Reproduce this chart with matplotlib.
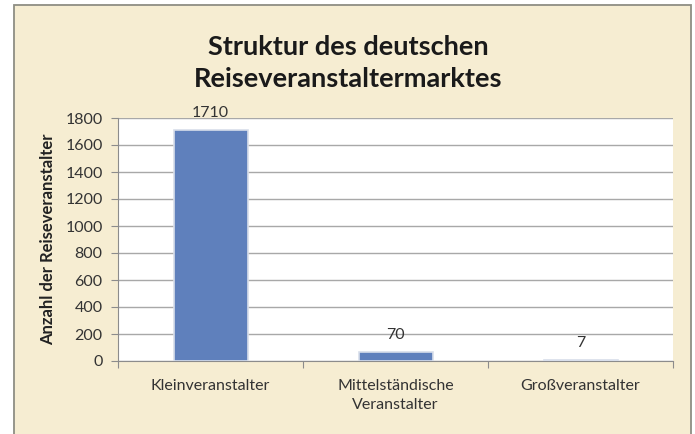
import matplotlib
matplotlib.use("Agg")
import matplotlib.pyplot as plt
from matplotlib.patches import Rectangle

categories = ["Kleinveranstalter", "Mittelständische\nVeranstalter", "Großveranstalter"]
values = [1710, 70, 7]
yticks = [0, 200, 400, 600, 800, 1000, 1200, 1400, 1600, 1800]
title = "Struktur des deutschen\nReiseveranstaltermarktes"
ylabel = "Anzahl der Reiseveranstalter"

plt.rcParams['font.family'] = ['Lato', 'DejaVu Sans']

W, H = 695, 434
fig = plt.figure(figsize=(W / 100, H / 100), dpi=100)
fig.patch.set_facecolor("white")
# background panel with frame (bottom edge runs off the image)
fig.patches.append(Rectangle((14 / W, 1 - 445 / H), (691 - 14) / W, (445 - 5) / H,
                             transform=fig.transFigure, facecolor="#F6EDD2",
                             edgecolor="#8E8E84", linewidth=1.3, zorder=-5))

left, right, top, bottom = 118, 673, 118, 361
ax = fig.add_axes([left / W, 1 - bottom / H, (right - left) / W, (bottom - top) / H])
ax.set_facecolor("white")

x = list(range(len(categories)))
bars = ax.bar(x, values, width=0.4, color="#5F80BC", edgecolor="#D8DEEA", linewidth=1.2, zorder=3)
ax.set_xlim(-0.5, len(categories) - 0.5)
ax.set_ylim(0, 1800)
ax.set_yticks(yticks)
ax.set_yticklabels([str(v) for v in yticks], fontsize=11.5, color="#333333")
ax.yaxis.grid(True, color="#A8A8A8", linewidth=1, zorder=0)
ax.tick_params(axis='y', length=5, color="#8C8C8C", pad=6)

ax.set_xticks([i + 0.5 for i in range(-1, len(categories))], minor=False)
ax.set_xticklabels([])
ax.tick_params(axis='x', length=5, color="#8C8C8C")
ax.set_xticks(x, minor=True)
ax.set_xticklabels(categories, minor=True, fontsize=11.5, color="#333333", linespacing=1.45)
ax.tick_params(axis='x', which='minor', length=0, pad=13)

for s in ["top", "right"]:
    ax.spines[s].set_visible(False)
for s in ["left", "bottom"]:
    ax.spines[s].set_color("#8C8C8C")

for b, v in zip(bars, values):
    ax.annotate(str(v), (b.get_x() + b.get_width() / 2, v), xytext=(0, 12),
                textcoords="offset points", ha="center", va="center", fontsize=11.5, color="#333333")

ax.set_ylabel(ylabel, fontsize=12, fontweight="bold", color="#222222", labelpad=7)

fig.text(348 / W, 1 - 63 / H, title, ha="center", va="center",
         fontsize=19.5, fontweight="bold", color="#1A1A1A", linespacing=1.4)

fig.savefig("out.png", dpi=100, facecolor=fig.get_facecolor())
